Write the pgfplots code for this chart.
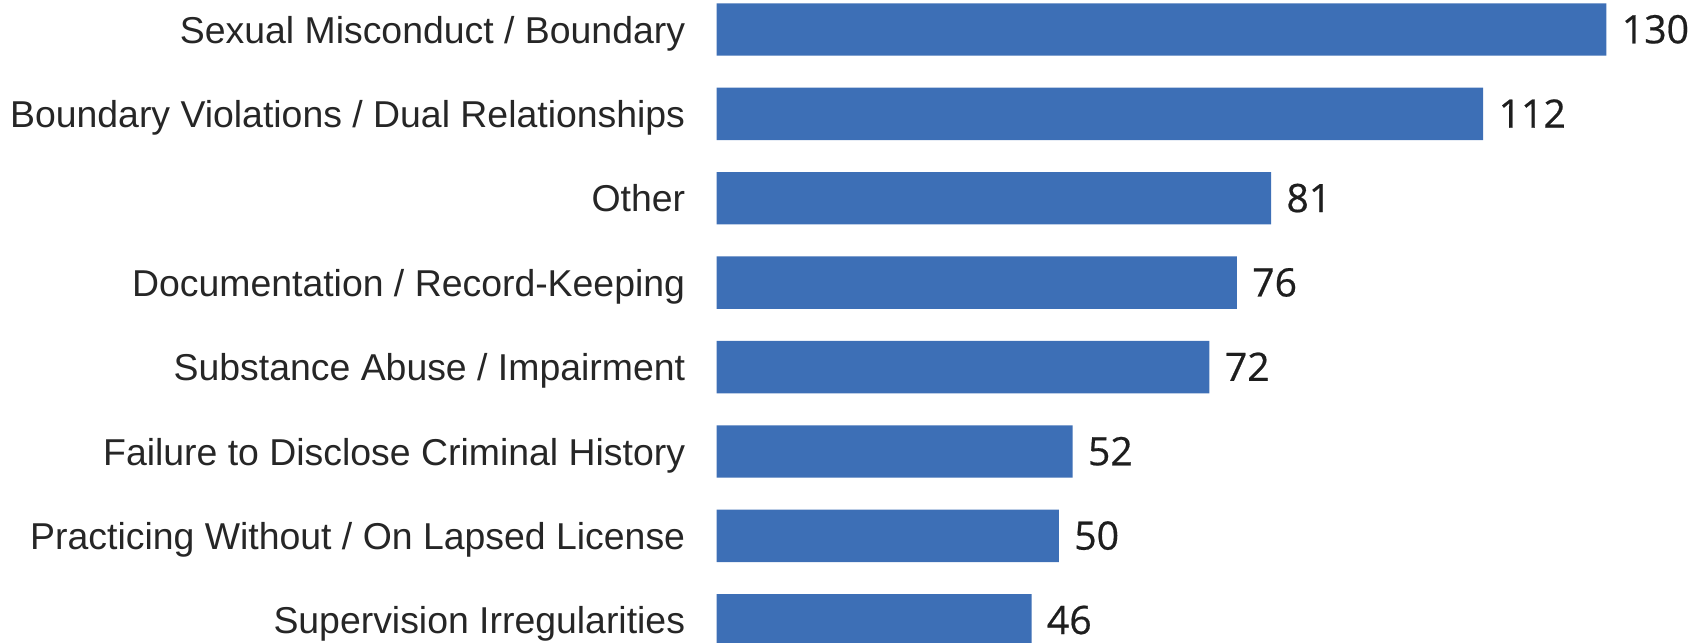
\documentclass[border=0pt]{standalone}
\usepackage{pgfplots}
\pgfplotsset{compat=1.18}
\usepackage{fontspec}
\setmainfont{Liberation Sans}
\newfontfamily\numfont[FakeBold=0.5]{Open Sans}
\definecolor{barblue}{HTML}{3D6FB6}
\definecolor{labelgray}{HTML}{262626}
\definecolor{numblack}{HTML}{1E1E1E}

\begin{document}
\begin{tikzpicture}
  \begin{axis}[
    xbar,
    scale only axis,
    width=444.85bp, height=337.56bp,
    xmin=0, xmax=130,
    ymin=-0.5, ymax=7.5,
    y dir=reverse,
    bar width=26.2bp,
    bar shift=0pt,
    ytick={0,...,7},
    yticklabels={Sexual Misconduct / Boundary,
                 Boundary Violations / Dual Relationships,
                 Other,
                 Documentation / Record-Keeping,
                 Substance Abuse / Impairment,
                 Failure to Disclose Criminal History,
                 Practicing Without / On Lapsed License,
                 Supervision Irregularities},
    xtick=\empty,
    axis line style={draw=none},
    major tick length=0pt,
    yticklabel style={font=\fontsize{18.7bp}{22bp}\selectfont, text=labelgray,
                      anchor=base east, inner sep=0pt, xshift=-15.6bp, yshift=-6.8bp},
    point meta=x,
    nodes near coords,
    /pgf/number format/assume math mode=true,
    nodes near coords style={font=\numfont\fontsize{19.6bp}{24bp}\selectfont, text=numblack,
                             anchor=base west, inner sep=0pt, xshift=7.5bp, yshift=-6.9bp},
    clip=false,
    ]
    % counts per category, top to bottom
    \addplot[fill=barblue, draw=none] coordinates {
      (130,0) (112,1) (81,2) (76,3) (72,4) (52,5) (50,6) (46,7)};
  \end{axis}
  \pgfresetboundingbox
  \path[use as bounding box] (-358.35bp,9.71bp) rectangle (495.15bp,331.21bp);
\end{tikzpicture}
\end{document}
